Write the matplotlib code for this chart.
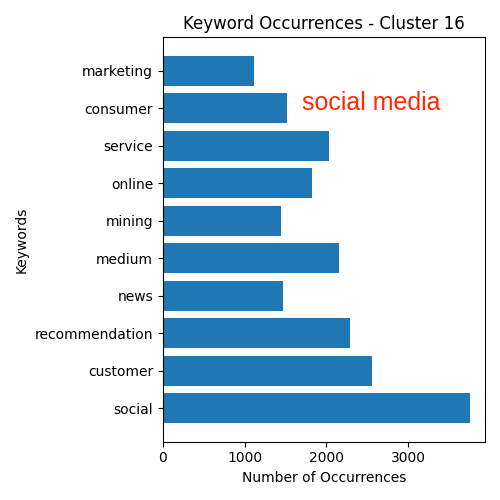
import matplotlib.pyplot as plt

keywords = ['social', 'customer', 'recommendation', 'news', 'medium',
            'mining', 'online', 'service', 'consumer', 'marketing']
counts = [3750, 2551, 2283, 1463, 2148, 1440, 1818, 2026, 1512, 1109]

fig, ax = plt.subplots(figsize=(5, 5), dpi=100)
ax.barh(keywords, counts, color='#1f77b4')
ax.set_title('Keyword Occurrences - Cluster 16')
ax.set_xlabel('Number of Occurrences')
ax.set_ylabel('Keywords')
ax.text(1700, 8.15, 'social media', color='#ff2a00', fontsize=18,
        family='Liberation Sans', va='center', ha='left')
plt.tight_layout()
plt.savefig('out.png')
